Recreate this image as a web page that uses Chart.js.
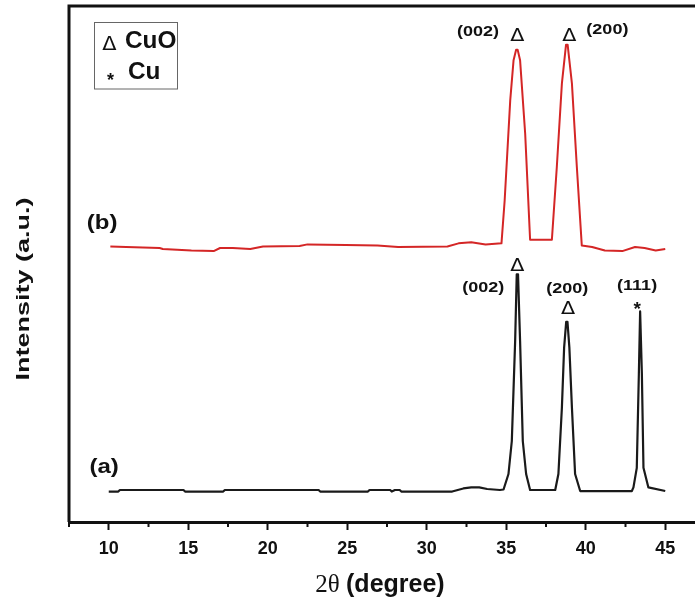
<!DOCTYPE html>
<html>
<head>
<meta charset="utf-8">
<script src="https://cdn.jsdelivr.net/npm/chart.js@4.4.1/dist/chart.umd.min.js"></script>
<style>
html, body { margin: 0; padding: 0; background: #fff; overflow: hidden; }
#wrap { width: 720px; height: 600px; }
</style>
</head>
<body>
<div id="wrap"><canvas id="xrd" width="720" height="600"></canvas></div>
<script>
// (a) black pattern: 2theta (deg) / intensity (a.u.)
const xA = [10.0, 10.6, 10.7, 14.7, 14.8, 17.2, 17.3, 23.2, 23.3, 26.3, 26.4, 27.7, 27.8, 28.0, 28.3,
  28.4, 31.6, 32.3, 32.8, 33.3, 33.8, 34.6, 34.83, 35.14, 35.35, 35.56, 35.66, 35.74, 35.87, 36.04, 36.25,
  36.5, 38.08, 38.28, 38.50, 38.64, 38.77, 38.85, 38.97, 39.13, 39.33, 39.65, 42.9, 43.0, 43.21, 43.34, 43.42,
  43.53, 43.63, 43.94, 45.0];
const yA = [59, 59, 62, 62, 59, 59, 62, 62, 59, 59, 62, 62, 59, 62, 62,
  59, 59, 65, 67, 67, 64, 62, 63, 93, 157, 351, 480, 480, 351, 157, 93,
  62, 62, 93, 222, 338, 388, 388, 338, 222, 93, 60, 60, 67, 105, 287, 408,
  287, 105, 67, 60];

// (b) red pattern
const xB = [10.1, 11.1, 13.2, 13.4, 15.2, 16.6, 17.0, 17.8, 18.9, 19.7, 22.0, 22.5, 24.9, 26.9, 28.2,
  31.3, 32.0, 32.8, 33.7, 34.7, 34.9, 35.25, 35.46, 35.62, 35.72, 35.87, 36.19, 36.5, 37.87, 38.18, 38.5,
  38.76, 38.86, 39.13, 39.44, 39.75, 40.4, 41.2, 42.3, 43.1, 43.7, 44.4, 45.0];
const yB = [534, 533, 531, 529, 526, 525, 531, 531, 529, 534, 535, 538, 537, 536, 533,
  534, 540, 542, 538, 540, 623, 817, 895, 915, 915, 895, 753, 547, 547, 688, 850,
  925, 925, 850, 688, 536, 533, 526, 525, 533, 531, 526, 529];

const majorTicks = [10, 15, 20, 25, 30, 35, 40, 45];
const minorTicks = [7.5, 12.5, 17.5, 22.5, 27.5, 32.5, 37.5, 42.5, 47.5];

// peak annotations, anchored in data coords (2theta, intensity)
const hklLabels = [['(002)', 33.23, 950], ['(200)', 41.36, 953],
  ['(002)', 33.55, 454], ['(200)', 38.83, 452], ['(111)', 43.23, 458]];
const phaseMarks = [['Δ', 35.69, 944], ['Δ', 38.96, 944],
  ['Δ', 35.69, 499], ['Δ', 38.89, 416], ['*', 43.23, 423]];
const sampleLabels = [['(b)', 9.58, 579], ['(a)', 9.71, 105]];

const SANS = '"Liberation Sans", Arial, sans-serif';

function txt(ctx, s, x, y, font, sx, align) {
    ctx.save();
    ctx.translate(x, y);
    ctx.scale(sx || 1, 1);
    ctx.font = font;
    ctx.textAlign = align || 'center';
    ctx.fillText(s, 0, 0);
    ctx.restore();
}

// frame, minor ticks, labels and legend box
const decor = {
    id: 'decor',
    afterDatasetsDraw(chart) {
        const { ctx, chartArea: a, scales: { x, y } } = chart;
        ctx.save();
        ctx.strokeStyle = '#111';
        ctx.fillStyle = '#111';
        ctx.lineWidth = 3;
        ctx.beginPath();
        ctx.moveTo(a.left, a.bottom);
        ctx.lineTo(a.left, a.top);
        ctx.lineTo(a.right + 20, a.top);
        ctx.stroke();

        ctx.lineWidth = 2;
        minorTicks.forEach(v => {
            const px = x.getPixelForValue(v);
            ctx.beginPath();
            ctx.moveTo(px, a.bottom);
            ctx.lineTo(px, a.bottom + 5);
            ctx.stroke();
        });

        ctx.textBaseline = 'middle';
        hklLabels.forEach(([s, vx, vy]) => {
            txt(ctx, s, x.getPixelForValue(vx), y.getPixelForValue(vy), 'bold 15px ' + SANS, 1.2);
        });
        ctx.textBaseline = 'alphabetic';
        phaseMarks.forEach(([s, vx, vy]) => {
            const px = x.getPixelForValue(vx), py = y.getPixelForValue(vy);
            if (s === '*') txt(ctx, s, px, py + 11, 'bold 19px ' + SANS, 1);
            else txt(ctx, s, px, py + 6.5, '18px "DejaVu Sans"', 1.15);
        });
        ctx.textBaseline = 'middle';
        sampleLabels.forEach(([s, vx, vy]) => {
            txt(ctx, s, x.getPixelForValue(vx), y.getPixelForValue(vy), 'bold 20px ' + SANS, 1.2);
        });

        // legend box
        ctx.strokeStyle = '#666';
        ctx.lineWidth = 1;
        ctx.strokeRect(94.5, 22.5, 83, 66.5);
        ctx.textBaseline = 'alphabetic';
        txt(ctx, 'Δ', 109.5, 50, '19px "DejaVu Sans"', 1.1);
        txt(ctx, '*', 110.5, 86, 'bold 18px ' + SANS, 1);
        ctx.textBaseline = 'middle';
        txt(ctx, 'CuO', 125, 42, 'bold 23px ' + SANS, 1.06, 'left');
        txt(ctx, 'Cu', 128, 73, 'bold 23px ' + SANS, 1.06, 'left');

        // axis titles
        ctx.font = '25px "Liberation Serif", serif';
        const w1 = ctx.measureText('2θ ').width;
        ctx.font = 'bold 25px ' + SANS;
        const w2 = ctx.measureText('(degree)').width;
        const x0 = 380 - (w1 + w2) / 2;
        txt(ctx, '2θ ', x0, 585, '25px "Liberation Serif", serif', 1, 'left');
        txt(ctx, '(degree)', x0 + w1, 585, 'bold 25px ' + SANS, 1, 'left');

        ctx.save();
        ctx.translate(24, 289);
        ctx.rotate(-Math.PI / 2);
        ctx.scale(1.42, 1);
        ctx.font = 'bold 19px ' + SANS;
        ctx.textAlign = 'center';
        ctx.textBaseline = 'middle';
        ctx.fillText('Intensity (a.u.)', 0, 0);
        ctx.restore();

        ctx.restore();
    }
};

new Chart(document.getElementById('xrd'), {
    type: 'line',
    data: {
        datasets: [
            { data: xA.map((v, i) => ({ x: v, y: yA[i] })), borderColor: '#1a1a1a', borderWidth: 2.2 },
            { data: xB.map((v, i) => ({ x: v, y: yB[i] })), borderColor: '#d42626', borderWidth: 2 }
        ]
    },
    options: {
        responsive: false,
        animation: false,
        devicePixelRatio: 1,
        layout: { padding: { left: 69, top: 6, right: 15, bottom: 0 } },
        elements: { point: { radius: 0 }, line: { tension: 0, borderJoinStyle: 'round' } },
        plugins: { legend: { display: false }, tooltip: { enabled: false } },
        scales: {
            x: {
                type: 'linear',
                min: 7.5,
                max: 47.5,
                afterBuildTicks: s => { s.ticks = majorTicks.map(v => ({ value: v })); },
                afterFit: s => { s.height = 78; },
                grid: { drawOnChartArea: false, drawTicks: true, tickLength: 8, tickWidth: 2, tickColor: '#111' },
                border: { display: true, width: 3, color: '#111' },
                ticks: { color: '#111', font: { family: SANS, size: 18, weight: 'bold' }, padding: 8, maxRotation: 0 }
            },
            y: { display: false, min: 0, max: 1000 }
        }
    },
    plugins: [decor]
});
</script>
</body>
</html>
